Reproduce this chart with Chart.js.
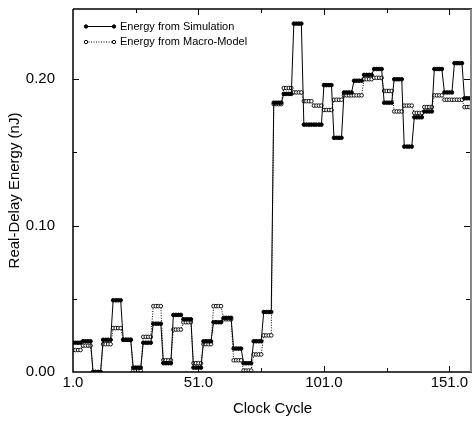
<!DOCTYPE html>
<html>
<head>
<meta charset="utf-8">
<script src="https://cdn.jsdelivr.net/npm/chart.js@4.4.0/dist/chart.umd.min.js"></script>
<style>
    html, body { margin: 0; padding: 0; background: #fff; }
    #wrap { width: 473px; height: 423px; }
</style>
</head>
<body>
<div id="wrap"><canvas id="chart" width="473" height="423"></canvas></div>
<script>
// each level is held for 4 clock cycles
const CYCLES_PER_LEVEL = 4;
const simLevels = [
    0.020, 0.021, 0.000, 0.022, 0.049, 0.022, 0.003, 0.020, 0.033, 0.006,
    0.039, 0.036, 0.003, 0.021, 0.034, 0.037, 0.016, 0.006, 0.021, 0.041,
    0.184, 0.190, 0.238, 0.169, 0.169, 0.196, 0.160, 0.191, 0.199, 0.203,
    0.207, 0.184, 0.200, 0.154, 0.174, 0.178, 0.207, 0.191, 0.211, 0.187
];
const macroLevels = [
    0.015, 0.018, 0.000, 0.019, 0.030, 0.022, 0.001, 0.024, 0.045, 0.008,
    0.029, 0.034, 0.006, 0.019, 0.045, 0.036, 0.008, 0.001, 0.012, 0.025,
    0.183, 0.194, 0.191, 0.185, 0.182, 0.179, 0.186, 0.189, 0.189, 0.200,
    0.201, 0.192, 0.178, 0.182, 0.177, 0.181, 0.189, 0.186, 0.186, 0.181
];
const seriesNames = ["Energy from Simulation", "Energy from Macro-Model"];
const xTicks = [1, 51, 101, 151];
const yTicks = [0, 0.1, 0.2];
const xMinorTicks = [26, 51, 76, 101, 126, 151];
const yMinorTicks = [0.05, 0.1, 0.15, 0.2];

const toPoints = (levels) => {
    const pts = [];
    levels.forEach((v, i) => {
        for (let k = 0; k < CYCLES_PER_LEVEL; k++) {
            pts.push({ x: 1 + i * CYCLES_PER_LEVEL + k, y: v });
        }
    });
    return pts;
};

const FONT = "'Liberation Sans', Arial, sans-serif";

// no extra room for the end labels, the plot box is fixed
const noPadding = (scale) => {
    scale.paddingLeft = 0;
    scale.paddingRight = 0;
    scale.paddingTop = 0;
    scale.paddingBottom = 0;
};

// frame, inward ticks and the legend box drawn over the chart area
const framePlugin = {
    id: "frame",
    afterLayout(chart) {
        // stretch the plot to the right edge like the original
        const a = chart.chartArea;
        const right = chart.width - 1;
        if (a.right !== right) {
            a.right = right;
            a.width = right - a.left;
            const xs = chart.scales.x;
            xs.right = right;
            xs.width = right - xs.left;
            xs.configure();
        }
    },
    afterDraw(chart) {
        const ctx = chart.ctx;
        const a = chart.chartArea;
        const xs = chart.scales.x, ys = chart.scales.y;
        ctx.save();
        ctx.lineWidth = 1.5;
        ctx.strokeStyle = "#000";
        ctx.beginPath();
        ctx.moveTo(a.left, a.top);
        ctx.lineTo(a.right, a.top);
        ctx.moveTo(a.left, a.top);
        ctx.lineTo(a.left, a.bottom);
        ctx.lineTo(a.right, a.bottom);
        ctx.stroke();
        ctx.strokeStyle = "#888";
        ctx.lineWidth = 2;
        ctx.beginPath();
        ctx.moveTo(a.right - 1, a.top);
        ctx.lineTo(a.right - 1, a.bottom);
        ctx.stroke();

        ctx.strokeStyle = "#000";
        ctx.lineWidth = 1;
        ctx.beginPath();
        xMinorTicks.forEach((v) => {
            const px = Math.round(xs.getPixelForValue(v)) + 0.5;
            const len = xTicks.indexOf(v) >= 0 ? 6 : 4;
            ctx.moveTo(px, a.bottom);
            ctx.lineTo(px, a.bottom - len);
            ctx.moveTo(px, a.top);
            ctx.lineTo(px, a.top + len);
        });
        yMinorTicks.forEach((v) => {
            const py = Math.round(ys.getPixelForValue(v)) + 0.5;
            const len = yTicks.indexOf(v) >= 0 ? 6 : 4;
            ctx.moveTo(a.left, py);
            ctx.lineTo(a.left + len, py);
            ctx.moveTo(a.right - 2, py);
            ctx.lineTo(a.right - 2 - len, py);
        });
        ctx.stroke();

        // legend
        ctx.font = "11px " + FONT;
        ctx.textBaseline = "middle";
        ctx.fillStyle = "#000";
        chart.data.datasets.forEach((ds, i) => {
            const y = 26.5 + i * 15.5;
            ctx.setLineDash(ds.borderDash || []);
            ctx.lineWidth = 1;
            ctx.beginPath();
            ctx.moveTo(86, y);
            ctx.lineTo(114, y);
            ctx.stroke();
            ctx.setLineDash([]);
            [86, 114].forEach((px) => {
                ctx.beginPath();
                ctx.arc(px, y, 1.7, 0, Math.PI * 2);
                ctx.fillStyle = ds.pointBackgroundColor;
                ctx.fill();
                ctx.stroke();
            });
            ctx.fillStyle = "#000";
            ctx.fillText(ds.label, 120, y);
        });
        ctx.restore();
    },
};

new Chart(document.getElementById("chart"), {
    type: "line",
    data: {
        datasets: [
            {
                label: seriesNames[0],
                data: toPoints(simLevels),
                borderColor: "#000",
                borderWidth: 1,
                pointRadius: 1.8,
                pointBorderWidth: 1,
                pointBackgroundColor: "#000",
                pointBorderColor: "#000",
                tension: 0,
            },
            {
                label: seriesNames[1],
                data: toPoints(macroLevels),
                borderColor: "#000",
                borderWidth: 1,
                borderDash: [1, 1.5],
                pointRadius: 1.8,
                pointBorderWidth: 0.9,
                pointBackgroundColor: "#fff",
                pointBorderColor: "#000",
                tension: 0,
            },
        ],
    },
    options: {
        responsive: false,
        animation: false,
        layout: { padding: { top: 9, right: 1, left: 0, bottom: 0 } },
        plugins: {
            legend: { display: false },
            tooltip: { enabled: false },
        },
        scales: {
            x: {
                type: "linear",
                min: 1,
                max: 160,
                grid: { display: false },
                border: { display: false },
                afterBuildTicks: (scale) => {
                    scale.ticks = xTicks.map((v) => ({ value: v }));
                },
                afterFit: (scale) => {
                    scale.height = 51;
                    noPadding(scale);
                },
                ticks: {
                    padding: -6,
                    color: "#000",
                    maxRotation: 0,
                    autoSkip: false,
                    font: { family: FONT, size: 15 },
                    callback: (v) => Number(v).toFixed(1),
                },
                title: {
                    display: true,
                    text: "Clock Cycle",
                    color: "#000",
                    font: { family: FONT, size: 15 },
                    padding: { top: 0, bottom: 5 },
                },
            },
            y: {
                min: 0,
                max: 0.248,
                grid: { display: false },
                border: { display: false },
                afterBuildTicks: (scale) => {
                    scale.ticks = yTicks.map((v) => ({ value: v }));
                },
                afterFit: (scale) => {
                    scale.width = 73;
                    noPadding(scale);
                },
                ticks: {
                    padding: 10,
                    color: "#000",
                    font: { family: FONT, size: 15 },
                    callback: (v) => Number(v).toFixed(2),
                },
                title: {
                    display: true,
                    text: "Real-Delay Energy (nJ)",
                    color: "#000",
                    font: { family: FONT, size: 15 },
                    padding: { top: 6, bottom: 0 },
                },
            },
        },
    },
    plugins: [framePlugin],
});
</script>
</body>
</html>
